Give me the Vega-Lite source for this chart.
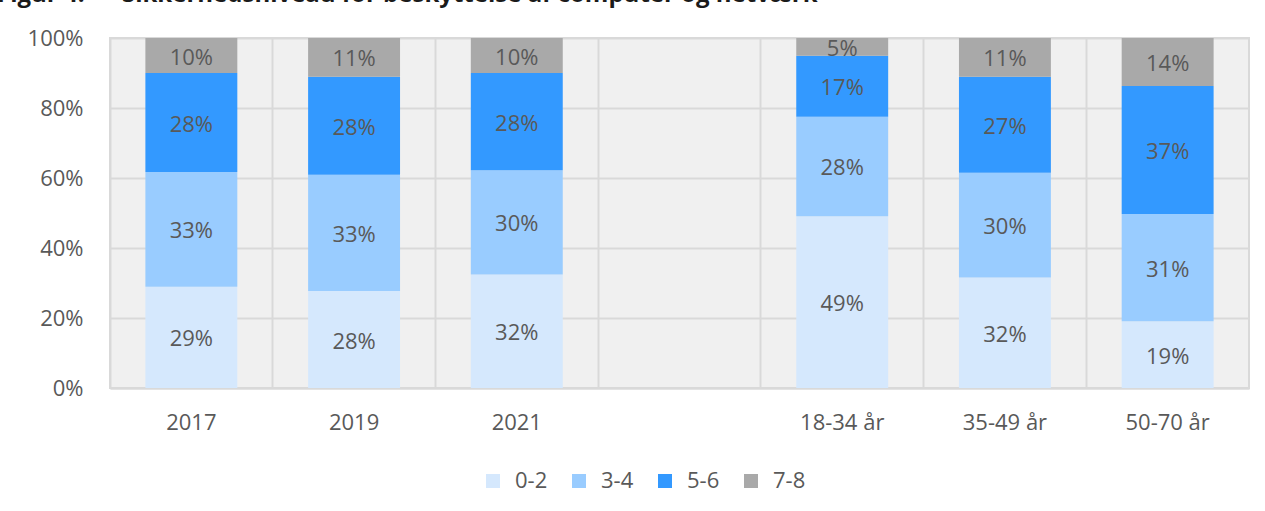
{
  "$schema": "https://vega.github.io/schema/vega-lite/v6.json",
  "autosize": {"type": "none"},
  "width": 1139,
  "height": 350,
  "padding": {"left": 110, "top": 38, "right": 16, "bottom": 123},
  "background": "white",
  "title": {
    "text": "Figur 4.\u00a0\u00a0\u00a0\u00a0\u00a0\u00a0Sikkerhedsniveau for beskyttelse af computer og netværk",
    "anchor": "start",
    "frame": "group",
    "dx": -113,
    "dy": 4,
    "offset": 5,
    "baseline": "alphabetic",
    "font": "Open Sans",
    "fontSize": 24,
    "fontWeight": "bold",
    "color": "#1a1a1a"
  },
  "data": {
    "values": [
      {"cat": "2017", "level": "0-2", "ord": 1, "value": 0.289},
      {"cat": "2017", "level": "3-4", "ord": 2, "value": 0.328},
      {"cat": "2017", "level": "5-6", "ord": 3, "value": 0.283},
      {"cat": "2017", "level": "7-8", "ord": 4, "value": 0.100},
      {"cat": "2019", "level": "0-2", "ord": 1, "value": 0.277},
      {"cat": "2019", "level": "3-4", "ord": 2, "value": 0.332},
      {"cat": "2019", "level": "5-6", "ord": 3, "value": 0.280},
      {"cat": "2019", "level": "7-8", "ord": 4, "value": 0.111},
      {"cat": "2021", "level": "0-2", "ord": 1, "value": 0.324},
      {"cat": "2021", "level": "3-4", "ord": 2, "value": 0.298},
      {"cat": "2021", "level": "5-6", "ord": 3, "value": 0.278},
      {"cat": "2021", "level": "7-8", "ord": 4, "value": 0.100},
      {"cat": "18-34 år", "level": "0-2", "ord": 1, "value": 0.491},
      {"cat": "18-34 år", "level": "3-4", "ord": 2, "value": 0.284},
      {"cat": "18-34 år", "level": "5-6", "ord": 3, "value": 0.174},
      {"cat": "18-34 år", "level": "7-8", "ord": 4, "value": 0.051},
      {"cat": "35-49 år", "level": "0-2", "ord": 1, "value": 0.316},
      {"cat": "35-49 år", "level": "3-4", "ord": 2, "value": 0.299},
      {"cat": "35-49 år", "level": "5-6", "ord": 3, "value": 0.274},
      {"cat": "35-49 år", "level": "7-8", "ord": 4, "value": 0.111},
      {"cat": "50-70 år", "level": "0-2", "ord": 1, "value": 0.191},
      {"cat": "50-70 år", "level": "3-4", "ord": 2, "value": 0.306},
      {"cat": "50-70 år", "level": "5-6", "ord": 3, "value": 0.366},
      {"cat": "50-70 år", "level": "7-8", "ord": 4, "value": 0.137}
    ]
  },
  "encoding": {
    "x": {
      "field": "cat",
      "type": "nominal",
      "scale": {
        "domain": ["2017", "2019", "2021", " ", "18-34 år", "35-49 år", "50-70 år"],
        "paddingInner": 0,
        "paddingOuter": 0
      },
      "axis": {
        "title": null,
        "labelAngle": 0,
        "ticks": false,
        "labelPadding": 24,
        "labelFont": "Open Sans",
        "labelFontSize": 22,
        "labelColor": "#595959",
        "grid": true,
        "bandPosition": 0,
        "gridColor": "#d9d9d9",
        "gridWidth": 2,
        "domainColor": "#d9d9d9",
        "domainWidth": 2
      }
    }
  },
  "layer": [
    {
      "mark": {"type": "bar", "width": {"band": 0.565}},
      "encoding": {
        "y": {
          "field": "value",
          "type": "quantitative",
          "stack": "zero",
          "scale": {"domain": [0, 1], "nice": false},
          "axis": {
            "title": null,
            "format": ".0%",
            "values": [0, 0.2, 0.4, 0.6, 0.8, 1],
            "ticks": false,
            "domain": false,
            "labelPadding": 27,
            "labelFont": "Open Sans",
            "labelFontSize": 22,
            "labelColor": "#595959",
            "gridColor": "#d9d9d9",
            "gridWidth": 2
          }
        },
        "color": {
          "field": "level",
          "type": "nominal",
          "scale": {
            "domain": ["0-2", "3-4", "5-6", "7-8"],
            "range": ["#d5e8fd", "#99ccff", "#3399ff", "#a9a9a9"]
          },
          "legend": {
            "title": null,
            "orient": "none",
            "direction": "horizontal",
            "legendX": 372,
            "legendY": 432,
            "symbolType": "square",
            "symbolSize": 196,
            "symbolStrokeWidth": 0,
            "labelFont": "Open Sans",
            "labelFontSize": 22,
            "labelColor": "#595959",
            "labelOffset": 11,
            "columnPadding": 20,
            "padding": 0
          }
        },
        "order": {"field": "ord", "type": "quantitative"}
      }
    },
    {
      "mark": {"type": "text", "font": "Open Sans", "fontSize": 22, "color": "#595959", "baseline": "middle", "dy": 2},
      "encoding": {
        "y": {"field": "value", "type": "quantitative", "stack": "zero", "bandPosition": 0.5},
        "detail": {"field": "level"},
        "order": {"field": "ord", "type": "quantitative"},
        "text": {"field": "value", "type": "quantitative", "format": ".0%"}
      }
    }
  ],
  "config": {
    "view": {"stroke": "#d9d9d9", "strokeWidth": 2, "fill": "#f0f0f0"}
  }
}
